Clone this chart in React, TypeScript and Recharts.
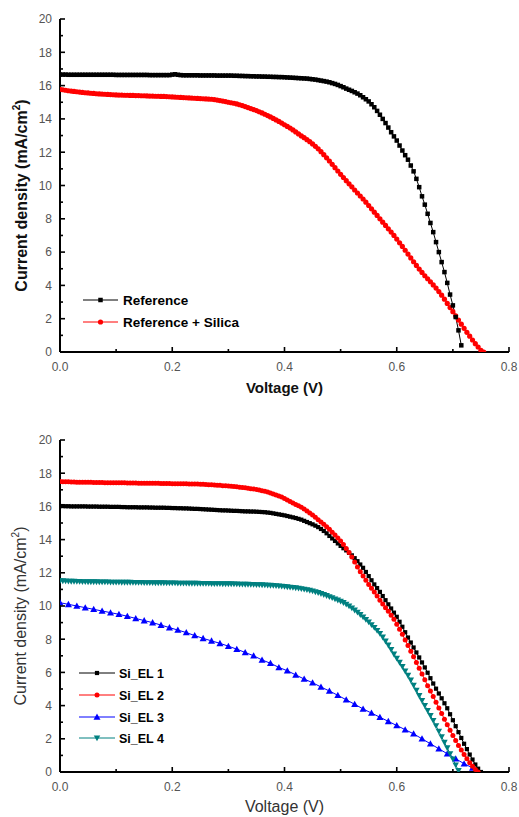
import React from "react";
import { LineChart, Line, XAxis, YAxis, Legend } from "recharts";

const FONT = "Arial, 'Liberation Sans', Helvetica, sans-serif";

// voltage grid (V), 0.005 V steps
const voltageGrid = [
  0, 0.005, 0.01, 0.015, 0.02, 0.025, 0.03, 0.035, 0.04, 0.045,
  0.05, 0.055, 0.06, 0.065, 0.07, 0.075, 0.08, 0.085, 0.09, 0.095,
  0.1, 0.105, 0.11, 0.115, 0.12, 0.125, 0.13, 0.135, 0.14, 0.145,
  0.15, 0.155, 0.16, 0.165, 0.17, 0.175, 0.18, 0.185, 0.19, 0.195,
  0.2, 0.205, 0.21, 0.215, 0.22, 0.225, 0.23, 0.235, 0.24, 0.245,
  0.25, 0.255, 0.26, 0.265, 0.27, 0.275, 0.28, 0.285, 0.29, 0.295,
  0.3, 0.305, 0.31, 0.315, 0.32, 0.325, 0.33, 0.335, 0.34, 0.345,
  0.35, 0.355, 0.36, 0.365, 0.37, 0.375, 0.38, 0.385, 0.39, 0.395,
  0.4, 0.405, 0.41, 0.415, 0.42, 0.425, 0.43, 0.435, 0.44, 0.445,
  0.45, 0.455, 0.46, 0.465, 0.47, 0.475, 0.48, 0.485, 0.49, 0.495,
  0.5, 0.505, 0.51, 0.515, 0.52, 0.525, 0.53, 0.535, 0.54, 0.545,
  0.55, 0.555, 0.56, 0.565, 0.57, 0.575, 0.58, 0.585, 0.59, 0.595,
  0.6, 0.605, 0.61, 0.615, 0.62, 0.625, 0.63, 0.635, 0.64, 0.645,
  0.65, 0.655, 0.66, 0.665, 0.67, 0.675, 0.68, 0.685, 0.69, 0.695,
  0.7, 0.705, 0.71, 0.715, 0.72, 0.725, 0.73, 0.735, 0.74, 0.745,
  0.75, 0.755,
];

// top panel: current density (mA/cm2)
const referenceJ = [
  16.66, 16.66, 16.66, 16.65, 16.65, 16.65, 16.65, 16.65, 16.65, 16.65,
  16.65, 16.65, 16.65, 16.65, 16.65, 16.65, 16.65, 16.65, 16.65, 16.65,
  16.64, 16.64, 16.64, 16.64, 16.64, 16.64, 16.64, 16.64, 16.64, 16.64,
  16.64, 16.64, 16.63, 16.63, 16.63, 16.63, 16.63, 16.63, 16.63, 16.63,
  16.66, 16.68, 16.65, 16.63, 16.62, 16.62, 16.62, 16.62, 16.62, 16.62,
  16.61, 16.61, 16.61, 16.61, 16.61, 16.61, 16.6, 16.6, 16.6, 16.6,
  16.6, 16.6, 16.59, 16.59, 16.58, 16.58, 16.57, 16.57, 16.56, 16.56,
  16.55, 16.55, 16.54, 16.54, 16.53, 16.53, 16.52, 16.52, 16.51, 16.51,
  16.5, 16.49, 16.48, 16.47, 16.46, 16.45, 16.44, 16.43, 16.42, 16.4,
  16.38, 16.36, 16.33, 16.3, 16.27, 16.24, 16.2, 16.15, 16.1, 16.04,
  15.97, 15.9, 15.82, 15.75, 15.68, 15.6, 15.52, 15.42, 15.3, 15.18,
  15.05, 14.88, 14.7, 14.48, 14.25, 14.0, 13.75, 13.48, 13.2, 12.95,
  12.7, 12.4, 12.1, 11.82, 11.55, 11.2, 10.85, 10.4, 9.9, 9.35,
  8.85, 8.3, 7.75, 7.2, 6.6, 6.0, 5.4, 4.8, 4.15, 3.45,
  2.8, 2.1, 1.3, 0.4,
];
const referenceSilicaJ = [
  15.78, 15.75, 15.72, 15.69, 15.67, 15.65, 15.63, 15.61, 15.59, 15.57,
  15.56, 15.54, 15.53, 15.51, 15.5, 15.49, 15.48, 15.47, 15.46, 15.45,
  15.44, 15.43, 15.43, 15.42, 15.42, 15.41, 15.41, 15.4, 15.4, 15.39,
  15.39, 15.38, 15.37, 15.37, 15.36, 15.36, 15.35, 15.35, 15.34, 15.33,
  15.32, 15.31, 15.3, 15.29, 15.28, 15.27, 15.26, 15.25, 15.24, 15.23,
  15.22, 15.21, 15.2, 15.19, 15.18, 15.16, 15.13, 15.1, 15.07, 15.04,
  15.0, 14.97, 14.94, 14.9, 14.85, 14.8, 14.74, 14.68, 14.62, 14.56,
  14.5, 14.43, 14.36, 14.28, 14.2, 14.12, 14.03, 13.94, 13.85, 13.75,
  13.65, 13.55, 13.45, 13.34, 13.22, 13.1, 12.98, 12.87, 12.75, 12.63,
  12.5, 12.35, 12.2, 12.03, 11.85, 11.66, 11.47, 11.27, 11.07, 10.87,
  10.67, 10.48, 10.29, 10.1, 9.92, 9.73, 9.55, 9.37, 9.19, 9.0,
  8.8, 8.6, 8.4, 8.2, 8.0, 7.8, 7.6, 7.4, 7.2, 7.0,
  6.78, 6.56, 6.34, 6.11, 5.88, 5.65, 5.42, 5.2, 4.98, 4.78,
  4.58, 4.4, 4.22, 4.03, 3.84, 3.63, 3.41, 3.17, 2.92, 2.67,
  2.42, 2.17, 1.92, 1.67, 1.42, 1.18, 0.95, 0.72, 0.5, 0.3,
  0.1, 0.0,
];

// bottom panel
const siEl1J = [
  16.02, 16.02, 16.01, 16.01, 16.0, 16.0, 16.0, 16.0, 16.0, 16.0,
  15.99, 15.99, 15.99, 15.99, 15.98, 15.98, 15.98, 15.98, 15.97, 15.97,
  15.97, 15.97, 15.96, 15.96, 15.95, 15.95, 15.95, 15.95, 15.94, 15.94,
  15.94, 15.94, 15.93, 15.93, 15.92, 15.92, 15.92, 15.92, 15.91, 15.91,
  15.9, 15.9, 15.89, 15.89, 15.88, 15.88, 15.87, 15.86, 15.85, 15.85,
  15.84, 15.83, 15.82, 15.81, 15.8, 15.79, 15.78, 15.77, 15.76, 15.76,
  15.75, 15.74, 15.73, 15.73, 15.72, 15.71, 15.7, 15.7, 15.69, 15.69,
  15.68, 15.67, 15.66, 15.65, 15.63, 15.61, 15.58, 15.55, 15.52, 15.49,
  15.46, 15.42, 15.38, 15.34, 15.3, 15.25, 15.2, 15.13, 15.06, 14.99,
  14.92, 14.84, 14.75, 14.64, 14.52, 14.38, 14.22, 14.07, 13.92, 13.77,
  13.62, 13.48, 13.35, 13.2, 13.05, 12.88, 12.7, 12.5, 12.3, 12.05,
  11.8, 11.55, 11.3, 11.08, 10.85, 10.6, 10.35, 10.1, 9.85, 9.6,
  9.35, 9.05, 8.75, 8.42, 8.1, 7.8, 7.5, 7.2, 6.9, 6.6,
  6.3, 5.98, 5.65, 5.33, 5.02, 4.73, 4.44, 4.14, 3.84, 3.48,
  3.12, 2.76, 2.4, 2.05, 1.7, 1.38, 1.05, 0.75, 0.45, 0.2,
  0.0,
];
const siEl2J = [
  17.5, 17.49, 17.48, 17.48, 17.47, 17.47, 17.46, 17.46, 17.45, 17.45,
  17.45, 17.45, 17.44, 17.44, 17.44, 17.44, 17.43, 17.43, 17.43, 17.43,
  17.42, 17.42, 17.42, 17.42, 17.41, 17.41, 17.41, 17.41, 17.4, 17.4,
  17.4, 17.4, 17.39, 17.39, 17.39, 17.39, 17.38, 17.38, 17.38, 17.38,
  17.37, 17.37, 17.36, 17.36, 17.36, 17.36, 17.35, 17.35, 17.35, 17.35,
  17.34, 17.33, 17.32, 17.31, 17.3, 17.29, 17.28, 17.27, 17.25, 17.24,
  17.23, 17.22, 17.2, 17.18, 17.16, 17.14, 17.12, 17.1, 17.07, 17.05,
  17.02, 16.99, 16.95, 16.91, 16.86, 16.81, 16.75, 16.69, 16.63, 16.56,
  16.48, 16.39, 16.3, 16.21, 16.12, 16.04, 15.95, 15.84, 15.72, 15.6,
  15.48, 15.34, 15.2, 15.06, 14.92, 14.77, 14.62, 14.45, 14.28, 14.1,
  13.92, 13.7, 13.47, 13.22, 12.95, 12.65, 12.35, 12.06, 11.8, 11.55,
  11.3, 11.07, 10.85, 10.6, 10.35, 10.12, 9.9, 9.68, 9.45, 9.2,
  8.9, 8.6, 8.3, 7.95, 7.62, 7.28, 6.95, 6.6, 6.25, 5.9,
  5.55, 5.2, 4.88, 4.55, 4.2, 3.85, 3.52, 3.18, 2.85, 2.52,
  2.2, 1.9, 1.6, 1.32, 1.05, 0.8, 0.55, 0.35, 0.15, 0.0,
];
const siEl4J = [
  11.52, 11.51, 11.5, 11.49, 11.48, 11.48, 11.47, 11.47, 11.46, 11.46,
  11.45, 11.45, 11.45, 11.45, 11.44, 11.44, 11.44, 11.44, 11.43, 11.43,
  11.43, 11.43, 11.42, 11.42, 11.42, 11.42, 11.41, 11.41, 11.41, 11.41,
  11.4, 11.4, 11.4, 11.4, 11.39, 11.39, 11.39, 11.39, 11.38, 11.38,
  11.38, 11.38, 11.37, 11.37, 11.37, 11.37, 11.36, 11.36, 11.36, 11.36,
  11.35, 11.35, 11.35, 11.35, 11.34, 11.34, 11.34, 11.34, 11.33, 11.33,
  11.33, 11.33, 11.32, 11.32, 11.31, 11.31, 11.3, 11.3, 11.29, 11.29,
  11.28, 11.28, 11.27, 11.26, 11.25, 11.24, 11.23, 11.22, 11.2, 11.19,
  11.17, 11.15, 11.13, 11.11, 11.09, 11.07, 11.04, 11.01, 10.98, 10.94,
  10.9, 10.85, 10.8, 10.74, 10.68, 10.62, 10.55, 10.49, 10.42, 10.35,
  10.28, 10.2, 10.1, 10.0, 9.88, 9.75, 9.62, 9.48, 9.33, 9.18,
  9.03, 8.87, 8.7, 8.52, 8.34, 8.12, 7.88, 7.64, 7.38, 7.1,
  6.85, 6.6, 6.35, 6.08, 5.82, 5.53, 5.22, 4.92, 4.6, 4.3,
  4.0, 3.7, 3.4, 3.1, 2.78, 2.45, 2.12, 1.78, 1.45, 1.1,
  0.78, 0.42, 0.08,
];
const siEl3V = [
  0, 0.015, 0.03, 0.045, 0.06, 0.075, 0.09, 0.105, 0.12, 0.135,
  0.15, 0.165, 0.18, 0.195, 0.21, 0.225, 0.24, 0.255, 0.27, 0.285,
  0.3, 0.315, 0.33, 0.345, 0.36, 0.375, 0.39, 0.405, 0.42, 0.435,
  0.45, 0.465, 0.48, 0.495, 0.51, 0.525, 0.54, 0.555, 0.57, 0.585,
  0.6, 0.615, 0.63, 0.645, 0.66, 0.675, 0.69, 0.705, 0.72, 0.735,
  0.745,
];
const siEl3J = [
  10.2, 10.1, 10.0, 9.9, 9.8, 9.7, 9.6, 9.5, 9.38, 9.25,
  9.12, 9.0, 8.85, 8.7, 8.55, 8.4, 8.22, 8.05, 7.9, 7.75,
  7.58, 7.4, 7.2, 7.0, 6.75, 6.55, 6.3, 6.1, 5.85, 5.6,
  5.38, 5.12, 4.88, 4.62, 4.35, 4.08, 3.8, 3.55, 3.3, 3.05,
  2.8, 2.55, 2.3, 2.0, 1.7, 1.4, 1.1, 0.8, 0.5, 0.25,
  0.05,
];

const xTicks = [0, 0.1, 0.2, 0.3, 0.4, 0.5, 0.6, 0.7, 0.8];
const yTicks = [0, 1, 2, 3, 4, 5, 6, 7, 8, 9, 10, 11, 12, 13, 14, 15, 16, 17, 18, 19, 20];
const rightTicksTop = [17.84, 15.13, 12.42, 9.72, 7.01, 4.31, 1.6];
const rightTicksBottom = [18.69, 15.98, 13.27, 10.55, 7.84, 5.13, 2.42];

const topNames = ["Reference", "Reference + Silica"];
const bottomNames = ["Si_EL 1", "Si_EL 2", "Si_EL 3", "Si_EL 4"];

type Shape = "square" | "circle" | "up" | "down";

const markerStyle: Record<string, { shape: Shape; color: string; size: number }> = {
  Reference: { shape: "square", color: "#000000", size: 4.5 },
  "Reference + Silica": { shape: "circle", color: "#ff0000", size: 5.2 },
  "Si_EL 1": { shape: "square", color: "#000000", size: 4.2 },
  "Si_EL 2": { shape: "circle", color: "#ff0000", size: 5 },
  "Si_EL 3": { shape: "up", color: "#0000ff", size: 7 },
  "Si_EL 4": { shape: "down", color: "#008080", size: 6.5 },
};

const toPoints = (vs: number[], js: number[]) => js.map((j, i) => ({ v: vs[i], j }));

function Marker({ shape, cx, cy, color, size }: { shape: Shape; cx: number; cy: number; color: string; size: number }) {
  const h = size / 2;
  if (shape === "square") return <rect x={cx - h} y={cy - h} width={size} height={size} fill={color} />;
  if (shape === "circle") return <circle cx={cx} cy={cy} r={h} fill={color} />;
  if (shape === "up")
    return <polygon points={`${cx},${cy - size * 0.5} ${cx - h},${cy + size * 0.4} ${cx + h},${cy + size * 0.4}`} fill={color} />;
  return <polygon points={`${cx},${cy + size * 0.5} ${cx - h},${cy - size * 0.4} ${cx + h},${cy - size * 0.4}`} fill={color} />;
}

const dotFor = (name: string) => (p: any) => {
  const key = `dot-${name}-${p.index}`;
  if (p.cx == null || p.cy == null) return <g key={key} />;
  const st = markerStyle[name];
  return <Marker key={key} shape={st.shape} cx={p.cx} cy={p.cy} color={st.color} size={st.size} />;
};

function LeftTick(props: any) {
  const { x, y, payload } = props;
  const major = Math.round(payload.value) % 2 === 0;
  const ax = x + 8;
  return (
    <g>
      <line x1={ax} x2={ax + (major ? 5 : 3)} y1={y} y2={y} stroke="#000" strokeWidth={1.6} />
      {major && (
        <text x={x} y={y} dy="0.36em" textAnchor="end" fontSize={12} fontFamily={FONT} fill="#555">
          {payload.value}
        </text>
      )}
    </g>
  );
}

function BottomTick(props: any) {
  const { x, y, payload } = props;
  const major = Math.round(payload.value * 10) % 2 === 0;
  const ay = y - 10;
  return (
    <g>
      <line x1={x} x2={x} y1={ay} y2={ay - (major ? 5 : 3)} stroke="#000" strokeWidth={1.6} />
      {major && (
        <text x={x} y={y} dy="0.71em" textAnchor="middle" fontSize={12} fontFamily={FONT} fill="#555">
          {payload.value.toFixed(1)}
        </text>
      )}
    </g>
  );
}

function RightTick(props: any) {
  const { x, y } = props;
  return <line x1={x} x2={x - 3} y1={y} y2={y} stroke="#000" strokeWidth={1.4} />;
}

function YTitle(props: any) {
  const { viewBox, bold, baseX } = props;
  const cx = viewBox.x + baseX;
  const cy = viewBox.y + viewBox.height / 2 + 10;
  return (
    <text
      x={cx}
      y={cy}
      transform={`rotate(-90, ${cx}, ${cy})`}
      textAnchor="middle"
      fontSize={16}
      fontWeight={bold ? 700 : 400}
      fontFamily={FONT}
      fill={bold ? "#111" : "#333"}
    >
      Current density (mA/cm
      <tspan fontSize={10} dy={-7}>2</tspan>
      <tspan dy={7}>)</tspan>
    </text>
  );
}

function XTitle(props: any) {
  const { viewBox, bold, dy } = props;
  return (
    <text
      x={viewBox.x + viewBox.width / 2}
      y={viewBox.y + dy}
      textAnchor="middle"
      fontSize={bold ? 15 : 16}
      fontWeight={bold ? 700 : 400}
      fontFamily={FONT}
      fill={bold ? "#111" : "#333"}
    >
      Voltage (V)
    </text>
  );
}

const legendContent = (names: string[], rowY: number[], x1: number, x2: number, textX: number, fontSize: number, w: number, h: number) =>
  (props: any) => {
    const items = [...(props.payload || [])].sort((a: any, b: any) => names.indexOf(a.value) - names.indexOf(b.value));
    return (
      <svg width={w} height={h} style={{ display: "block" }}>
        {items.map((it: any, i: number) => {
          const st = markerStyle[it.value];
          const y = rowY[i];
          return (
            <g key={it.value}>
              <line x1={x1} x2={x2} y1={y} y2={y} stroke={st.color} strokeWidth={1} />
              <Marker shape={st.shape} cx={(x1 + x2) / 2} cy={y} color={st.color} size={st.size} />
              <text x={textX} y={y} dy="0.36em" fontSize={fontSize} fontWeight={700} fontFamily={FONT} fill="#000">
                {it.value}
              </text>
            </g>
          );
        })}
      </svg>
    );
  };

const axisLine = { stroke: "#000", strokeWidth: 2 };

export default function App() {
  return (
    <div style={{ position: "absolute", left: 0, top: 0, width: 519, height: 817, background: "#fff" }}>
      <LineChart width={519} height={410} margin={{ top: 19, right: 10, bottom: 0, left: 0 }}>
        <XAxis
          type="number"
          dataKey="v"
          domain={[0, 0.8]}
          ticks={xTicks}
          interval={0}
          allowDataOverflow
          height={58}
          tickSize={0}
          tickMargin={10}
          tickLine={false}
          axisLine={axisLine}
          tick={<BottomTick />}
          label={<XTitle bold dy={41} />}
        />
        <XAxis xAxisId="top" orientation="top" type="number" domain={[0, 0.8]} height={0} tick={false} tickLine={false} axisLine={axisLine} />
        <YAxis
          type="number"
          domain={[0, 20]}
          ticks={yTicks}
          interval={0}
          allowDataOverflow
          width={60}
          tickSize={0}
          tickMargin={8}
          tickLine={false}
          axisLine={axisLine}
          tick={<LeftTick />}
          label={<YTitle bold baseX={27} />}
        />
        <YAxis
          yAxisId="right"
          orientation="right"
          type="number"
          domain={[0, 20]}
          ticks={rightTicksTop}
          interval={0}
          width={0}
          tickSize={0}
          tickMargin={0}
          tickLine={false}
          axisLine={axisLine}
          tick={<RightTick />}
        />
        <Line
          data={toPoints(voltageGrid, referenceSilicaJ)}
          dataKey="j"
          name="Reference + Silica"
          stroke="#ff0000"
          strokeWidth={1}
          dot={dotFor("Reference + Silica")}
          activeDot={false}
          isAnimationActive={false}
        />
        <Line
          data={toPoints(voltageGrid, referenceJ)}
          dataKey="j"
          name="Reference"
          stroke="#000000"
          strokeWidth={1}
          dot={dotFor("Reference")}
          activeDot={false}
          isAnimationActive={false}
        />
        <Legend
          layout="vertical"
          align="center"
          verticalAlign="middle"
          wrapperStyle={{ left: 0, top: 0, width: 300, height: 340 }}
          content={legendContent(topNames, [300, 322], 83, 118, 123, 13.5, 300, 340)}
        />
      </LineChart>

      <LineChart width={519} height={407} margin={{ top: 30, right: 10, bottom: 0, left: 0 }}>
        <XAxis
          type="number"
          dataKey="v"
          domain={[0, 0.8]}
          ticks={xTicks}
          interval={0}
          allowDataOverflow
          height={45}
          tickSize={0}
          tickMargin={10}
          tickLine={false}
          axisLine={axisLine}
          tick={<BottomTick />}
          label={<XTitle dy={40} />}
        />
        <XAxis xAxisId="top" orientation="top" type="number" domain={[0, 0.8]} height={0} tick={false} tickLine={false} axisLine={axisLine} />
        <YAxis
          type="number"
          domain={[0, 20]}
          ticks={yTicks}
          interval={0}
          allowDataOverflow
          width={60}
          tickSize={0}
          tickMargin={8}
          tickLine={false}
          axisLine={axisLine}
          tick={<LeftTick />}
          label={<YTitle baseX={26} />}
        />
        <YAxis
          yAxisId="right"
          orientation="right"
          type="number"
          domain={[0, 20]}
          ticks={rightTicksBottom}
          interval={0}
          width={0}
          tickSize={0}
          tickMargin={0}
          tickLine={false}
          axisLine={axisLine}
          tick={<RightTick />}
        />
        <Line
          data={toPoints(siEl3V, siEl3J)}
          dataKey="j"
          name="Si_EL 3"
          stroke="#0000ff"
          strokeWidth={1}
          dot={dotFor("Si_EL 3")}
          activeDot={false}
          isAnimationActive={false}
        />
        <Line
          data={toPoints(voltageGrid, siEl4J)}
          dataKey="j"
          name="Si_EL 4"
          stroke="#008080"
          strokeWidth={1}
          dot={dotFor("Si_EL 4")}
          activeDot={false}
          isAnimationActive={false}
        />
        <Line
          data={toPoints(voltageGrid, siEl1J)}
          dataKey="j"
          name="Si_EL 1"
          stroke="#000000"
          strokeWidth={1}
          dot={dotFor("Si_EL 1")}
          activeDot={false}
          isAnimationActive={false}
        />
        <Line
          data={toPoints(voltageGrid, siEl2J)}
          dataKey="j"
          name="Si_EL 2"
          stroke="#ff0000"
          strokeWidth={1}
          dot={dotFor("Si_EL 2")}
          activeDot={false}
          isAnimationActive={false}
        />
        <Legend
          layout="vertical"
          align="center"
          verticalAlign="middle"
          wrapperStyle={{ left: 0, top: 0, width: 300, height: 340 }}
          content={legendContent(bottomNames, [263, 285, 307, 328], 79, 115, 119, 12.5, 300, 340)}
        />
      </LineChart>
    </div>
  );
}
